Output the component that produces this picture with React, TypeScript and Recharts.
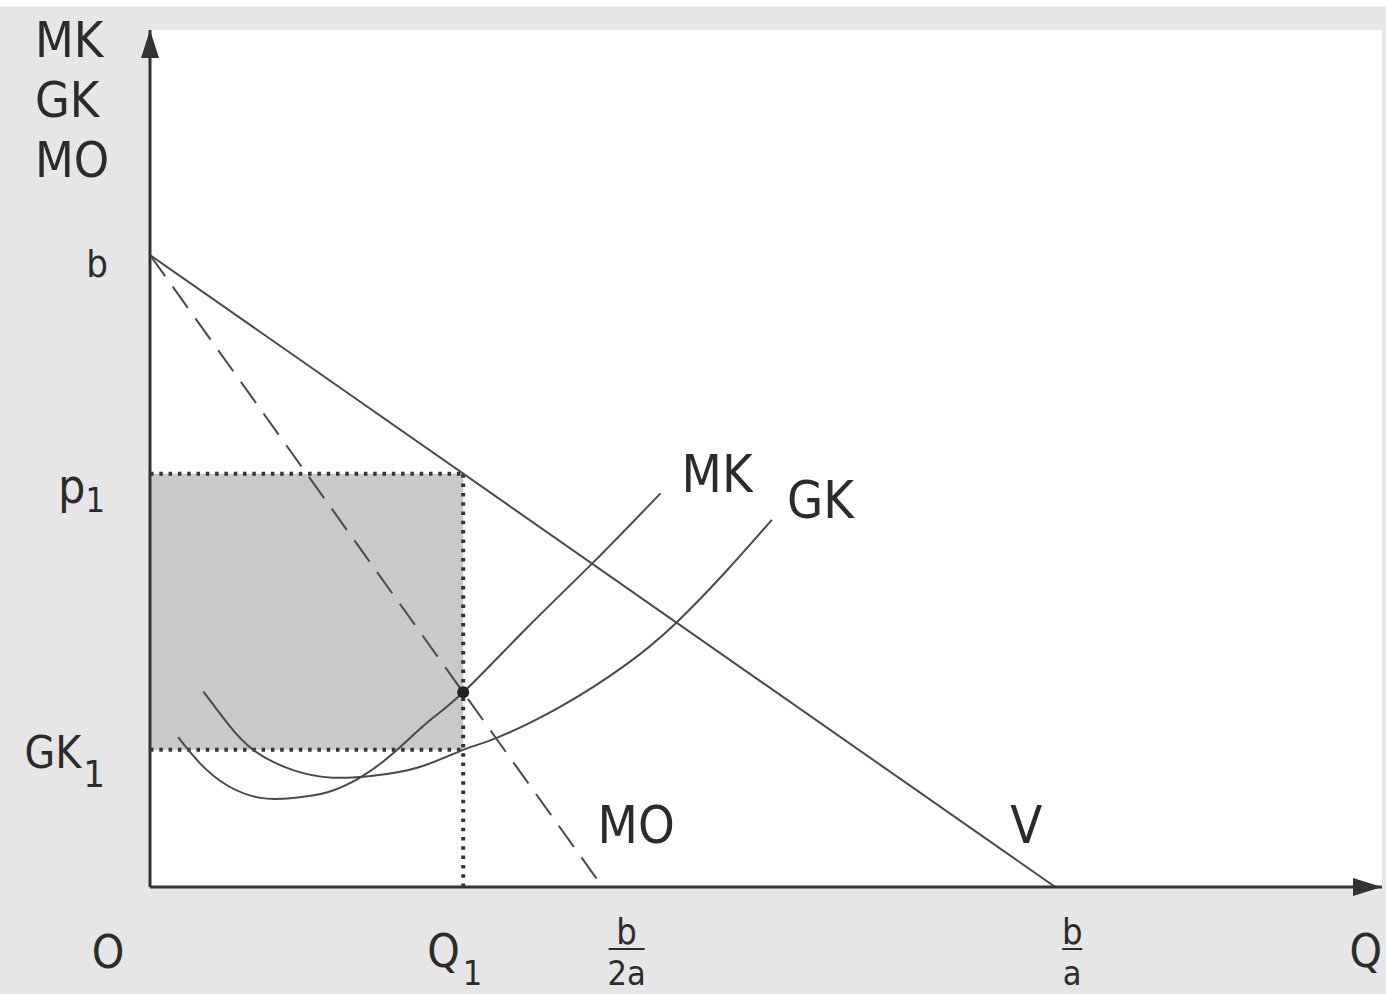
import React from 'react';
import {
  ComposedChart,
  Line,
  XAxis,
  YAxis,
  ReferenceArea,
  ReferenceLine,
  ReferenceDot,
  CartesianGrid,
} from 'recharts';

// ---- data (schematic units: b = 10, a = 1) ----
const B = 10; // price intercept b
const B_OVER_A = 10; // b/a
const B_OVER_2A = 5; // b/2a
const Q1 = 3.46;
const P1 = 6.54;
const GK1 = 2.17;
const MO_AT_Q1 = 3.08;
const X_MAX = 13.61;
const Y_MAX = 13.56;

const demandV = [
  { x: 0, y: B },
  { x: B_OVER_A, y: 0 },
];
const revenueMO = [
  { x: 0, y: B },
  { x: B_OVER_2A, y: 0 },
];

const mkX = [0.31, 0.55, 0.85, 1.22, 1.58, 1.96, 2.32, 2.69, 3.06, 3.46, 4.17, 4.9, 5.64];
const mkY = [2.37, 1.96, 1.61, 1.41, 1.41, 1.5, 1.73, 2.12, 2.6, 3.08, 4.11, 5.14, 6.23];

const gkX = [0.59, 0.85, 1.14, 1.58, 2.02, 2.46, 2.98, 3.46, 3.83, 4.53, 5.27, 5.82, 6.38, 6.87];
const gkY = [3.09, 2.6, 2.17, 1.85, 1.73, 1.76, 1.9, 2.17, 2.36, 2.85, 3.53, 4.19, 5.02, 5.81];

const mkData = mkX.map((x, i) => ({ x, y: mkY[i] }));
const gkData = gkX.map((x, i) => ({ x, y: gkY[i] }));

const xTickValues = [0, Q1, B_OVER_2A, B_OVER_A, X_MAX];
const xTickMain = ['O', 'Q', 'b', 'b', 'Q'];
const xTickSub = ['', '1', '', '', ''];
const xTickDen = ['', '', '2a', 'a', ''];

const yTickValues = [B, P1, GK1];
const yTickMain = ['b', 'p', 'GK'];
const yTickSub = ['', '1', '1'];

const titleLines = ['MK', 'GK', 'MO'];

// ---- styles ----
const FONT = "'Liberation Sans Narrow', 'Arial Narrow', 'DejaVu Sans Condensed', sans-serif";
const INK = '#2b2b2b';
const LINE = '#4a4a4a';
const AXIS_Y = 887; // pixel row of the x axis (used only for tick label offsets)
const AXIS_X = 150; // pixel column of the y axis

const XTick = (props: any) => {
  const { x, payload } = props;
  const y = AXIS_Y;
  const i = xTickValues.findIndex((v) => Math.abs(v - payload.value) < 1e-6);
  if (i < 0) return null;
  if (xTickDen[i]) {
    const cx = x + (i === 2 ? 24 : 17);
    const half = i === 2 ? 18 : 10;
    return (
      <g>
        <text x={cx} y={y + 57} textAnchor="middle" fontSize={36} fill={INK} fontFamily={FONT}>
          {xTickMain[i]}
        </text>
        <line x1={cx - half} x2={cx + half} y1={y + 62} y2={y + 62} stroke={INK} strokeWidth={2} />
        <text x={cx} y={y + 98} textAnchor="middle" fontSize={34} fill={INK} fontFamily={FONT}>
          {xTickDen[i]}
        </text>
      </g>
    );
  }
  if (i === 0) {
    return (
      <text x={x - 42} y={y + 81} textAnchor="middle" fontSize={46} fill={INK} fontFamily={FONT}>
        {xTickMain[i]}
      </text>
    );
  }
  if (i === 1) {
    return (
      <text x={x - 36} y={y + 80} textAnchor="start" fontSize={46} fill={INK} fontFamily={FONT}>
        {xTickMain[i]}
        <tspan fontSize={34} dy={18} dx={3}>
          {xTickSub[i]}
        </tspan>
      </text>
    );
  }
  return (
    <text x={x} y={y + 80} textAnchor="end" fontSize={46} fill={INK} fontFamily={FONT}>
      {xTickMain[i]}
    </text>
  );
};

const YTick = (props: any) => {
  const { y, payload } = props;
  const x = AXIS_X;
  const i = yTickValues.findIndex((v) => Math.abs(v - payload.value) < 1e-6);
  if (i < 0) return null;
  if (i === 0) {
    return (
      <text x={x - 42} y={y + 22} textAnchor="end" fontSize={38} fill={INK} fontFamily={FONT}>
        {yTickMain[i]}
      </text>
    );
  }
  if (i === 1) {
    return (
      <text x={x - 45} y={y + 29} textAnchor="end" fontSize={48} fill={INK} fontFamily={FONT}>
        {yTickMain[i]}
        <tspan fontSize={34} dy={9}>
          {yTickSub[i]}
        </tspan>
      </text>
    );
  }
  return (
    <text x={x - 45} y={y + 18} textAnchor="end" fontSize={44} fill={INK} fontFamily={FONT}>
      {yTickMain[i]}
      <tspan fontSize={38} dy={19} dx={2}>
        {yTickSub[i]}
      </tspan>
    </text>
  );
};

const curveLabel = (text: string, dx: number, dy: number, anchor: string = 'start') => (p: any) => (
  <text x={p.cx + dx} y={p.cy + dy} textAnchor={anchor} fontSize={52} fill={INK} fontFamily={FONT}>
    {text}
  </text>
);

const xArrow = (p: any) => (
  <polygon points={`${p.cx},${p.cy} ${p.cx - 29},${p.cy - 9} ${p.cx - 29},${p.cy + 9}`} fill="#333" />
);

const yArrow = (p: any) => (
  <g>
    <polygon points={`${p.cx},${p.cy} ${p.cx - 9},${p.cy + 28} ${p.cx + 9},${p.cy + 28}`} fill="#333" />
    {titleLines.map((t, k) => (
      <text key={t} x={p.cx - 115} y={p.cy + 27 + k * 60} fontSize={50} fill={INK} fontFamily={FONT}>
        {t}
      </text>
    ))}
  </g>
);

const dotShape = (p: any) => <circle cx={p.cx} cy={p.cy} r={6} fill="#222" />;

const dotted = { stroke: '#333', strokeWidth: 4, strokeDasharray: '3.5 5.8' };

export default function App() {
  const mkEnd = mkData[mkData.length - 1];
  const gkEnd = gkData[gkData.length - 1];
  return (
    <div
      style={{
        position: 'absolute',
        left: 0,
        top: 0,
        width: 1386,
        height: 994,
        background: 'linear-gradient(#ffffff 0px, #ffffff 6px, #e6e6e6 7px, #e6e6e6 100%)',
        fontFamily: FONT,
      }}
    >
      <ComposedChart width={1386} height={994} margin={{ top: 30, right: 4, bottom: 67, left: 110 }}>
        <CartesianGrid horizontal={false} vertical={false} fill="#ffffff" />
        <XAxis
          type="number"
          dataKey="x"
          domain={[0, X_MAX]}
          allowDataOverflow
          ticks={xTickValues}
          interval={0}
          height={40}
          tickSize={0}
          tickMargin={0}
          tickLine={false}
          axisLine={{ stroke: '#333', strokeWidth: 3 }}
          tick={XTick}
        />
        <YAxis
          type="number"
          dataKey="y"
          domain={[0, Y_MAX]}
          allowDataOverflow
          ticks={yTickValues}
          interval={0}
          width={40}
          tickSize={0}
          tickMargin={0}
          tickLine={false}
          axisLine={{ stroke: '#333', strokeWidth: 3 }}
          tick={YTick}
        />
        <ReferenceArea x1={0} x2={Q1} y1={GK1} y2={P1} fill="#c9c9c9" fillOpacity={1} stroke="none" />
        <ReferenceLine segment={[{ x: 0, y: P1 }, { x: Q1, y: P1 }]} {...dotted} />
        <ReferenceLine segment={[{ x: 0, y: GK1 }, { x: Q1, y: GK1 }]} {...dotted} />
        <ReferenceLine segment={[{ x: Q1, y: 0 }, { x: Q1, y: P1 }]} {...dotted} />
        <Line data={demandV} dataKey="y" type="linear" stroke={LINE} strokeWidth={2} dot={false} isAnimationActive={false} />
        <Line
          data={revenueMO}
          dataKey="y"
          type="linear"
          stroke={LINE}
          strokeWidth={2}
          strokeDasharray="26 13"
          dot={false}
          isAnimationActive={false}
        />
        <Line data={mkData} dataKey="y" type="natural" stroke={LINE} strokeWidth={2} dot={false} isAnimationActive={false} />
        <Line data={gkData} dataKey="y" type="natural" stroke={LINE} strokeWidth={2} dot={false} isAnimationActive={false} />
        <ReferenceDot x={Q1} y={MO_AT_Q1} r={6} shape={dotShape} ifOverflow="visible" />
        <ReferenceDot x={mkEnd.x} y={mkEnd.y} r={0} shape={curveLabel('MK', 21, -1)} ifOverflow="visible" />
        <ReferenceDot x={gkEnd.x} y={gkEnd.y} r={0} shape={curveLabel('GK', 15, -2)} ifOverflow="visible" />
        <ReferenceDot x={B_OVER_2A} y={0} r={0} shape={curveLabel('MO', -5, -44)} ifOverflow="visible" />
        <ReferenceDot x={B_OVER_A} y={0} r={0} shape={curveLabel('V', -45, -44)} ifOverflow="visible" />
        <ReferenceDot x={X_MAX} y={0} r={0} shape={xArrow} ifOverflow="visible" />
        <ReferenceDot x={0} y={Y_MAX} r={0} shape={yArrow} ifOverflow="visible" />
      </ComposedChart>
    </div>
  );
}
